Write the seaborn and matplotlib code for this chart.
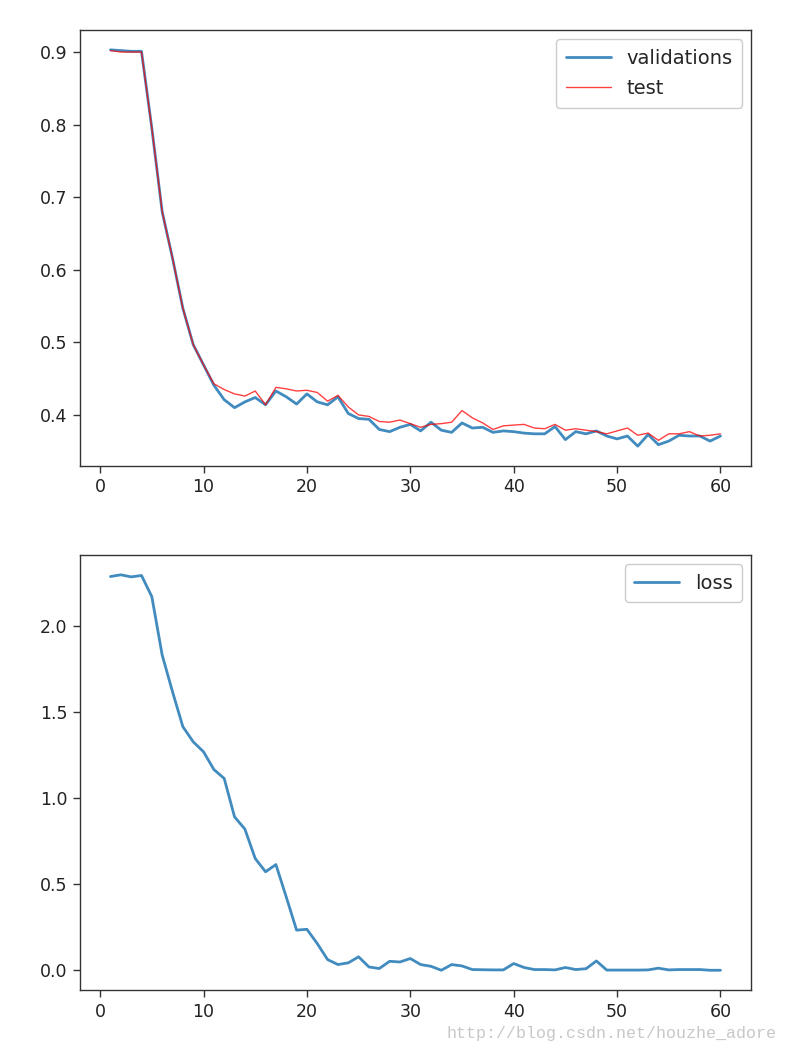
import numpy as np
import pandas as pd
import matplotlib
matplotlib.use("Agg")
import matplotlib.pyplot as plt
import seaborn as sns

epochs = list(range(1, 61))

validations = [0.903, 0.902, 0.901, 0.901, 0.795, 0.680, 0.616, 0.547, 0.497, 0.469,
               0.441, 0.421, 0.410, 0.418, 0.424, 0.414, 0.433, 0.425, 0.415, 0.429,
               0.418, 0.414, 0.425, 0.402, 0.395, 0.394, 0.380, 0.377, 0.383, 0.387,
               0.378, 0.390, 0.379, 0.376, 0.389, 0.382, 0.383, 0.376, 0.378, 0.377,
               0.375, 0.374, 0.374, 0.384, 0.366, 0.377, 0.374, 0.378, 0.371, 0.367,
               0.371, 0.357, 0.373, 0.359, 0.364, 0.372, 0.371, 0.371, 0.364, 0.371]

test = [0.902, 0.900, 0.900, 0.900, 0.795, 0.680, 0.616, 0.547, 0.497, 0.469,
        0.443, 0.435, 0.429, 0.426, 0.433, 0.414, 0.438, 0.436, 0.433, 0.434,
        0.431, 0.419, 0.427, 0.411, 0.400, 0.398, 0.391, 0.390, 0.393, 0.388,
        0.383, 0.387, 0.388, 0.390, 0.406, 0.396, 0.389, 0.380, 0.385, 0.386,
        0.387, 0.382, 0.381, 0.387, 0.379, 0.381, 0.379, 0.377, 0.374, 0.378,
        0.382, 0.372, 0.375, 0.365, 0.374, 0.374, 0.377, 0.371, 0.372, 0.374]

loss = [2.287, 2.297, 2.285, 2.293, 2.170, 1.831, 1.618, 1.415, 1.327, 1.269,
        1.166, 1.114, 0.891, 0.820, 0.649, 0.572, 0.614, 0.426, 0.233, 0.238,
        0.155, 0.062, 0.033, 0.043, 0.078, 0.019, 0.010, 0.052, 0.048, 0.068,
        0.033, 0.023, 0.000, 0.033, 0.025, 0.004, 0.003, 0.002, 0.002, 0.039,
        0.016, 0.004, 0.004, 0.002, 0.016, 0.004, 0.009, 0.054, 0.001, 0.001,
        0.001, 0.001, 0.002, 0.012, 0.002, 0.004, 0.004, 0.004, 0.000, 0.000]

sns.set_style("ticks")
plt.rcParams['font.family'] = ['DejaVu Sans']
plt.rcParams['axes.edgecolor'] = '#333333'
plt.rcParams['xtick.color'] = '#333333'
plt.rcParams['ytick.color'] = '#333333'
plt.rcParams['xtick.labelcolor'] = '#222222'
plt.rcParams['ytick.labelcolor'] = '#222222'

fig = plt.figure(figsize=(7.88, 10.54), dpi=100)
ax1 = fig.add_axes([0.1015, 0.5579, 0.8515, 0.4136])
ax2 = fig.add_axes([0.1015, 0.0607, 0.8515, 0.4127])

sns.lineplot(x=epochs, y=validations, ax=ax1, color='#1f77b4', lw=2, alpha=0.85, label='validations')
sns.lineplot(x=epochs, y=test, ax=ax1, color='red', lw=1, alpha=0.75, label='test')
sns.lineplot(x=epochs, y=loss, ax=ax2, color='#1f77b4', lw=2, alpha=0.85, label='loss')

ax1.set_yticks([0.4, 0.5, 0.6, 0.7, 0.8, 0.9])
ax2.set_yticks([0.0, 0.5, 1.0, 1.5, 2.0])
for ax in (ax1, ax2):
    ax.set_xticks([0, 10, 20, 30, 40, 50, 60])
    ax.tick_params(labelsize=12.5, length=5, width=1, pad=4)
    for s in ax.spines.values():
        s.set_visible(True)
        s.set_linewidth(1)
    leg = ax.legend(loc='upper right', fontsize=14, frameon=True, fancybox=True,
                    edgecolor='#cccccc', framealpha=1, borderaxespad=0.45,
                    labelspacing=0.6, handlelength=2.3, borderpad=0.5)

fig.text(0.985, 0.019, 'http://blog.csdn.net/houzhe_adore', ha='right', va='center',
         fontsize=12, color='#c8c8c8', family=['Liberation Mono', 'DejaVu Sans Mono'])

fig.savefig('out.png', dpi=100)
